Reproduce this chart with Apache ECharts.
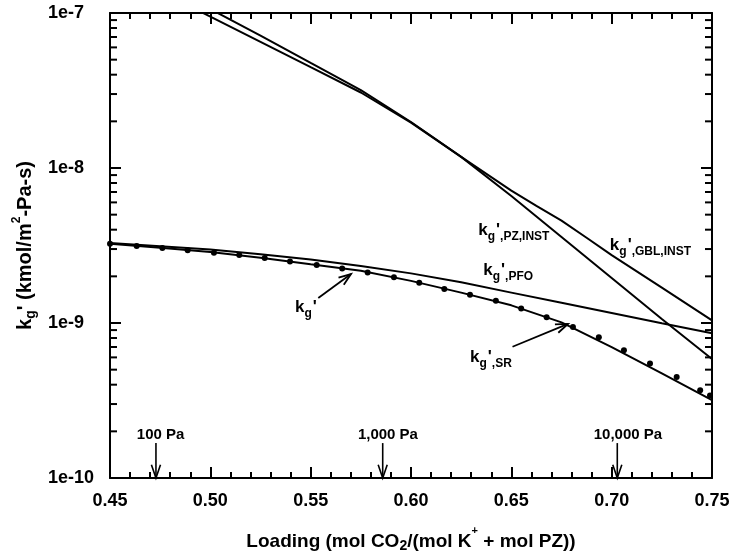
<!DOCTYPE html>
<html><head><meta charset="utf-8">
<script src="https://cdn.jsdelivr.net/npm/echarts@6/dist/echarts.min.js"></script>
<style>html,body{margin:0;padding:0;background:#fff}#c{width:732px;height:552px}</style>
</head><body><div id="c"></div>
<script>
// ---------- axis ranges / ticks ----------
const xMin = 0.45, xMax = 0.75, xInterval = 0.05;
const yMin = 1e-10, yMax = 1e-7;
const yMinorTicks = [];
[-10, -9, -8].forEach(function (d) { for (let m = 2; m <= 9; m++) yMinorTicks.push(m * Math.pow(10, d)); });

// ---------- curve data ----------
const xCurve = [0.45, 0.475, 0.50, 0.525, 0.55, 0.575, 0.60, 0.625, 0.65, 0.675, 0.70, 0.725, 0.75];
const pfoValues = [3.28e-9, 3.13e-9, 2.98e-9, 2.78e-9, 2.57e-9, 2.33e-9, 2.09e-9, 1.83e-9, 1.57e-9, 1.35e-9, 1.16e-9, 9.96e-10, 8.6e-10];
const srValues  = [3.25e-9, 3.06e-9, 2.87e-9, 2.64e-9, 2.39e-9, 2.17e-9, 1.87e-9, 1.57e-9, 1.30e-9, 1.01e-9, 6.98e-10, 4.73e-10, 3.18e-10];

const xPz = [0.50, 0.525, 0.55, 0.575, 0.60, 0.625, 0.65, 0.675, 0.70, 0.725, 0.75];
const pzValues = [1.06e-7, 7.14e-8, 4.76e-8, 3.18e-8, 1.98e-8, 1.18e-8, 6.59e-9, 3.59e-9, 1.95e-9, 1.06e-9, 5.86e-10];

const xGbl = [0.49, 0.50, 0.525, 0.55, 0.575, 0.60, 0.625, 0.65, 0.6625, 0.675, 0.6875, 0.70, 0.725, 0.75];
const gblValues = [1.10e-7, 9.48e-8, 6.52e-8, 4.47e-8, 3.07e-8, 1.96e-8, 1.18e-8, 7.15e-9, 5.70e-9, 4.58e-9, 3.55e-9, 2.74e-9, 1.69e-9, 1.04e-9];

// k_g' points
const kgX = [0.45, 0.4633, 0.4761, 0.4887, 0.5018, 0.5144, 0.5271, 0.5397, 0.5530, 0.5657, 0.5784, 0.5915, 0.6041,
             0.6166, 0.6294, 0.6423, 0.6549, 0.6676, 0.6807, 0.6936, 0.7061, 0.7191, 0.7324, 0.7441, 0.7490];
const kgValues = [3.24e-9, 3.14e-9, 3.05e-9, 2.95e-9, 2.84e-9, 2.75e-9, 2.63e-9, 2.49e-9, 2.37e-9, 2.25e-9, 2.12e-9, 1.97e-9, 1.82e-9,
                  1.66e-9, 1.52e-9, 1.39e-9, 1.24e-9, 1.09e-9, 9.42e-10, 8.09e-10, 6.68e-10, 5.48e-10, 4.49e-10, 3.68e-10, 3.40e-10];

// ---------- annotations (data coordinates) ----------
const pressureLabels = ['100 Pa', '1,000 Pa', '10,000 Pa'];
const pressureX = [0.4729, 0.5859, 0.7028];
const pressureLabelX = [0.4752, 0.5885, 0.7081];
const pressureLabelY = 1.90e-10;
const pressureArrowTop = 1.68e-10;

const curveLabelSubs = [',PZ,INST', ',PFO', ',GBL,INST', '', ',SR'];
const curveLabelX = [0.6335, 0.6360, 0.6991, 0.5422, 0.6294];
const curveLabelY = [3.61e-9, 1.99e-9, 2.92e-9, 1.16e-9, 5.50e-10];

const pointerFromX = [0.5538, 0.6506];
const pointerFromY = [1.45e-9, 7.03e-10];
const pointerToX = [0.5701, 0.6782];
const pointerToY = [2.07e-9, 9.86e-10];

// ---------- helpers ----------
const FONT = "'Liberation Sans', Arial, Helvetica, sans-serif";
function zip(xs, ys) { return xs.map(function (x, i) { return [x, ys[i]]; }); }
function arrowEls(p0, p1, head, ang, lw) {
  const a = Math.atan2(p1[1] - p0[1], p1[0] - p0[0]);
  const w1 = [p1[0] - head * Math.cos(a - ang), p1[1] - head * Math.sin(a - ang)];
  const w2 = [p1[0] - head * Math.cos(a + ang), p1[1] - head * Math.sin(a + ang)];
  return [
    { type: 'line', shape: { x1: p0[0], y1: p0[1], x2: p1[0], y2: p1[1] }, style: { stroke: '#000', lineWidth: lw } },
    { type: 'polyline', shape: { points: [w1, p1, w2] }, style: { stroke: '#000', lineWidth: lw, fill: null } }
  ];
}
const labelRich = {
  k: { fontSize: 17, fontWeight: 'bold', fontFamily: FONT, lineHeight: 20, fill: '#000' },
  g: { fontSize: 12, fontWeight: 'bold', fontFamily: FONT, lineHeight: 12, padding: [13, 0, 0, 0], fill: '#000' },
  p: { fontSize: 17, fontWeight: 'bold', fontFamily: FONT, lineHeight: 20, padding: [0, 0, 0, 1], fill: '#000' },
  s: { fontSize: 12, fontWeight: 'bold', fontFamily: FONT, lineHeight: 12, padding: [13, 0, 0, 0], fill: '#000' }
};

const chart = echarts.init(document.getElementById('c'), null, { renderer: 'canvas' });
const tickStyle = { color: '#000', width: 2 };
const axisLineStyle = { color: '#000', width: 2 };

function xAxisDef(pos, showLabel) {
  return {
    type: 'value', position: pos, min: xMin, max: xMax, interval: xInterval,
    axisLine: { show: true, onZero: false, lineStyle: axisLineStyle },
    axisTick: { show: true, inside: true, length: 11, lineStyle: tickStyle },
    minorTick: { show: true, splitNumber: 5, length: 6, lineStyle: tickStyle },
    splitLine: { show: false }, minorSplitLine: { show: false },
    axisLabel: {
      show: showLabel, margin: 14, color: '#000', fontSize: 18, fontWeight: 'bold', fontFamily: FONT,
      showMinLabel: true, showMaxLabel: true, hideOverlap: false,
      formatter: function (v) { return v.toFixed(2); }
    }
  };
}
function yAxisDef(pos, showLabel) {
  return {
    type: 'log', logBase: 10, position: pos, min: yMin, max: yMax,
    axisLine: { show: true, onZero: false, lineStyle: axisLineStyle },
    axisTick: { show: true, inside: true, length: 11, lineStyle: tickStyle },
    splitLine: { show: false },
    axisLabel: {
      show: showLabel, margin: 62, align: 'left', color: '#000', fontSize: 18, fontWeight: 'bold', fontFamily: FONT,
      showMinLabel: true, showMaxLabel: true, hideOverlap: false,
      formatter: function (v) { return '1e' + Math.round(Math.log10(v)); }
    }
  };
}

const lineStyleCommon = { color: '#000', width: 2 };
function lineSeries(name, xs, ys) {
  return {
    name: name, type: 'line', data: zip(xs, ys), showSymbol: false, symbol: 'none', smooth: false,
    lineStyle: lineStyleCommon, clip: true, z: 3, animation: false
  };
}

const option = {
  animation: false,
  backgroundColor: '#fff',
  grid: { left: 110, right: 20, top: 13, bottom: 74, containLabel: false, outerBoundsMode: 'none' },
  xAxis: [xAxisDef('bottom', true), xAxisDef('top', false)],
  yAxis: [yAxisDef('left', true), yAxisDef('right', false)],
  series: [
    lineSeries('kg,PFO', xCurve, pfoValues),
    lineSeries('kg,SR', xCurve, srValues),
    lineSeries('kg,PZ,INST', xPz, pzValues),
    lineSeries('kg,GBL,INST', xGbl, gblValues),
    {
      name: "kg'", type: 'scatter', data: zip(kgX, kgValues), symbol: 'circle', symbolSize: 6,
      itemStyle: { color: '#000', opacity: 1 }, z: 4, animation: false
    },
    {
      // minor log ticks on left and right frame
      type: 'custom', data: yMinorTicks.map(function (v) { return [xMin, v]; }), clip: false, z: 5,
      renderItem: function (params, api) {
        const v = api.value(1);
        const pL = api.coord([xMin, v]), pR = api.coord([xMax, v]);
        return { type: 'group', children: [
          { type: 'line', shape: { x1: pL[0], y1: pL[1], x2: pL[0] + 7, y2: pL[1] }, style: { stroke: '#000', lineWidth: 2 } },
          { type: 'line', shape: { x1: pR[0] - 7, y1: pR[1], x2: pR[0], y2: pR[1] }, style: { stroke: '#000', lineWidth: 2 } }
        ] };
      }
    },
    {
      // pressure markers
      type: 'custom', data: zip(pressureX, pressureX.map(function () { return pressureArrowTop; })), clip: false, z: 6,
      renderItem: function (params, api) {
        const i = params.dataIndex;
        const top = api.coord([pressureX[i], pressureArrowTop]);
        const bot = api.coord([pressureX[i], yMin]);
        const lp = api.coord([pressureLabelX[i], pressureLabelY]);
        const els = arrowEls(top, bot, 14, 0.33, 1.6);
        els.push({ type: 'text', x: lp[0], y: lp[1], style: {
          text: pressureLabels[i], fill: '#000', font: 'bold 15px ' + FONT, align: 'center', verticalAlign: 'middle' } });
        return { type: 'group', children: els };
      }
    },
    {
      // curve labels
      type: 'custom', data: zip(curveLabelX, curveLabelY), clip: false, z: 6,
      renderItem: function (params, api) {
        const i = params.dataIndex;
        const p = api.coord([curveLabelX[i], curveLabelY[i]]);
        let txt = '{k|k}{g|g}{p|\'}';
        if (curveLabelSubs[i]) txt += '{s|' + curveLabelSubs[i] + '}';
        return { type: 'text', x: p[0], y: p[1] - 6, style: {
          text: txt, rich: labelRich, fill: '#000', align: 'left', verticalAlign: 'middle' } };
      }
    },
    {
      // pointer arrows
      type: 'custom', data: zip(pointerToX, pointerToY), clip: false, z: 6,
      renderItem: function (params, api) {
        const i = params.dataIndex;
        const a = api.coord([pointerFromX[i], pointerFromY[i]]);
        const b = api.coord([pointerToX[i], pointerToY[i]]);
        return { type: 'group', children: arrowEls(a, b, 13, 0.35, 1.8) };
      }
    }
  ],
  graphic: [
    {
      type: 'text', x: 411, y: 542, silent: true,
      style: {
        text: '{t|Loading (mol CO}{sub|2}{t|/(mol K}{sup|+}{t| + mol PZ))}',
        align: 'center', verticalAlign: 'middle', fill: '#000',
        rich: {
          t: { fontSize: 19, fontWeight: 'bold', fontFamily: FONT, lineHeight: 22, fill: '#000' },
          sub: { fontSize: 14, fontWeight: 'bold', fontFamily: FONT, lineHeight: 14, padding: [8, 0, 0, 0], fill: '#000' },
          sup: { fontSize: 11, fontWeight: 'bold', fontFamily: FONT, lineHeight: 11, padding: [0, 0, 22, 0], fill: '#000' }
        }
      }
    },
    {
      type: 'text', x: 25, y: 245.5, rotation: Math.PI / 2, silent: true,
      style: {
        text: '{k|k}{g|g}{p|\' }{t|(kmol/m}{sup|2}{t|-Pa-s)}',
        align: 'center', verticalAlign: 'middle', fill: '#000',
        rich: {
          k: { fontSize: 20, fontWeight: 'bold', fontFamily: FONT, lineHeight: 22, fill: '#000' },
          t: { fontSize: 20, fontWeight: 'bold', fontFamily: FONT, lineHeight: 22, fill: '#000' },
          p: { fontSize: 20, fontWeight: 'bold', fontFamily: FONT, lineHeight: 22, fill: '#000' },
          g: { fontSize: 14, fontWeight: 'bold', fontFamily: FONT, lineHeight: 14, padding: [12, 0, 0, 0], fill: '#000' },
          sup: { fontSize: 12, fontWeight: 'bold', fontFamily: FONT, lineHeight: 12, padding: [0, 0, 16, 0], fill: '#000' }
        }
      }
    }
  ]
};
chart.setOption(option);
</script>
</body></html>
